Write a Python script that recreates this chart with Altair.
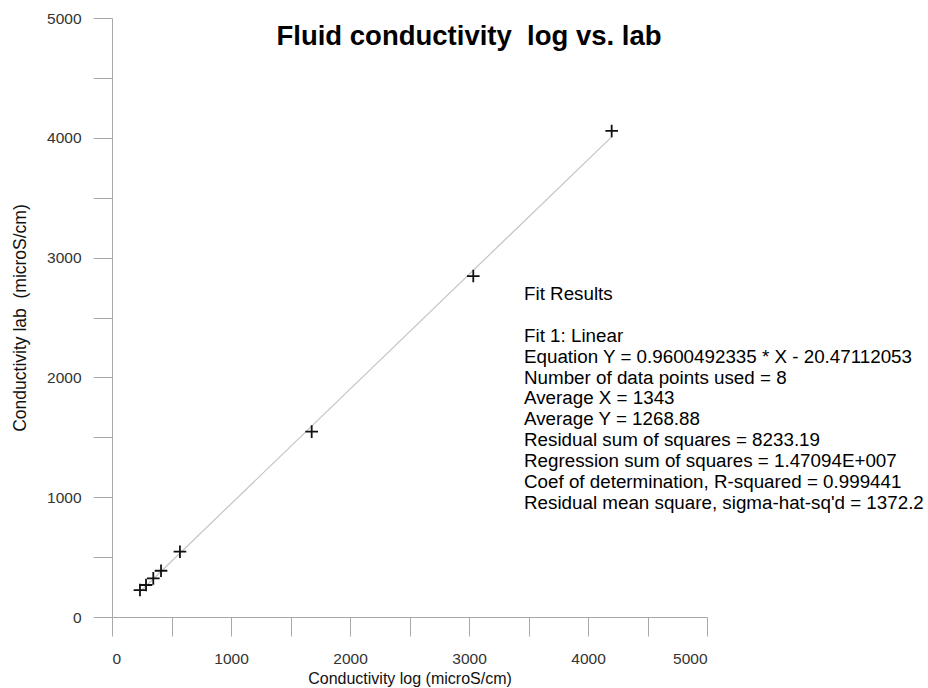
import altair as alt
import pandas as pd

# Data
log_values = [235, 286, 347, 412, 571, 1678, 3036, 4199]
lab_values = [225, 267, 323, 386, 545, 1547, 2846, 4057]

axis_ticks = [0, 500, 1000, 1500, 2000, 2500, 3000, 3500, 4000, 4500, 5000]

NB = "\u00a0"
title_text = "Fluid conductivity" + NB + " log vs. lab"
x_title = "Conductivity log (microS/cm)"
y_title = "Conductivity lab" + NB + " (microS/cm)"

fit_heading = "Fit Results"
fit_lines = [
    "Fit 1: Linear",
    "Equation Y = 0.9600492335 * X - 20.47112053",
    "Number of data points used = 8",
    "Average X = 1343",
    "Average Y = 1268.88",
    "Residual sum of squares = 8233.19",
    "Regression sum of squares = 1.47094E+007",
    "Coef of determination, R-squared = 0.999441",
    "Residual mean square, sigma-hat-sq'd = 1372.2",
]

FONT = "Liberation Sans, Arial, sans-serif"
LINE_H = 20.9

df = pd.DataFrame({"x": log_values, "y": lab_values})

x_enc = alt.X(
    "x:Q",
    scale=alt.Scale(domain=[0, 5000], nice=False, zero=False),
    axis=alt.Axis(
        title=x_title,
        values=axis_ticks,
        format="d",
        labelExpr="datum.value % 1000 == 0 ? datum.label : ''",
        grid=False,
        tickSize=19,
        labelPadding=15,
        titleX=297.5,
        titleY=66,
        titleAlign="center",
        titleBaseline="alphabetic",
        titleFontSize=16,
    ),
)
y_enc = alt.Y(
    "y:Q",
    scale=alt.Scale(domain=[0, 5000], nice=False, zero=False),
    axis=alt.Axis(
        title=y_title,
        values=axis_ticks,
        format="d",
        labelExpr="datum.value % 1000 == 0 ? datum.label : ''",
        grid=False,
        tickSize=19,
        labelPadding=12,
        titleX=-92,
        titleY=299.5,
        titleAngle=-90,
        titleAlign="center",
        titleBaseline="middle",
        titleFontSize=17.5,
    ),
)

line = (
    alt.Chart(df)
    .transform_regression("x", "y", method="linear")
    .mark_line(color="#c4c4c4", strokeWidth=1.2)
    .encode(x=x_enc, y=y_enc)
)

points = (
    alt.Chart(df)
    .mark_point(
        shape="M-1,0L1,0M0,-1L0,1",
        size=160,
        filled=False,
        color="#111111",
        strokeWidth=1.8,
        opacity=1,
    )
    .encode(x=alt.X("x:Q"), y=alt.Y("y:Q"))
)

title = (
    alt.Chart(pd.DataFrame({"t": [title_text]}))
    .mark_text(
        font=FONT,
        fontSize=27.5,
        fontWeight="bold",
        align="center",
        baseline="alphabetic",
        color="#000000",
    )
    .encode(text="t:N", x=alt.value(357), y=alt.value(27))
)

heading = (
    alt.Chart(pd.DataFrame({"t": [fit_heading]}))
    .mark_text(font=FONT, fontSize=18.8, align="left", baseline="alphabetic", color="#000000")
    .encode(text="t:N", x=alt.value(412), y=alt.value(282))
)

fit_text = (
    alt.Chart(pd.DataFrame({"t": ["\n".join(fit_lines)]}))
    .mark_text(
        font=FONT,
        fontSize=18.8,
        align="left",
        baseline="alphabetic",
        lineBreak="\n",
        lineHeight=LINE_H,
        color="#000000",
    )
    .encode(text="t:N", x=alt.value(412), y=alt.value(282 + 2 * LINE_H))
)

chart = (
    alt.layer(line, points, title, heading, fit_text)
    .properties(
        width=595,
        height=599,
        padding={"left": 112, "top": 18, "right": 221, "bottom": 71},
        autosize=alt.AutoSizeParams(type="none"),
        background="white",
    )
    .configure_view(stroke=None)
    .configure_axis(
        labelFont=FONT,
        titleFont=FONT,
        labelFontSize=15.5,
        labelColor="#333333",
        titleColor="#111111",
        titleFontWeight="normal",
        domainColor="#a8a8a8",
        tickColor="#a8a8a8",
        domainWidth=1,
        tickWidth=1,
    )
)

chart.save("out.html", embed_options={"renderer": "svg", "actions": False})
